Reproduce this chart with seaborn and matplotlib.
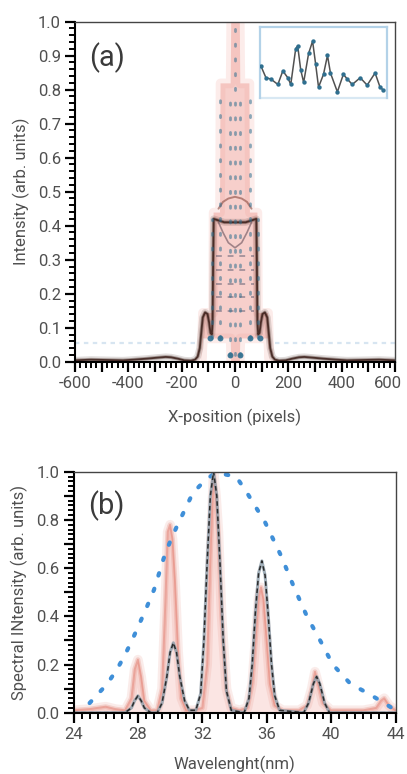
import numpy as np
import pandas as pd
import matplotlib
matplotlib.use("Agg")
import matplotlib.pyplot as plt
from matplotlib.ticker import MultipleLocator, FuncFormatter
from matplotlib.transforms import ScaledTranslation
import seaborn as sns

# ---------------- (a) spatial profile ----------------
# measured intensity envelope (pink band): upper and lower edges
a_env_x = [-128, -122, -84, -82, -58, -56, -18, -16, 16, 18, 52, 54, 82, 84, 122, 128]
a_env_hi = [0.0, 0.145, 0.145, 0.44, 0.44, 0.82, 0.82, 1.0, 1.0, 0.82, 0.82, 0.44, 0.44, 0.145, 0.145, 0.0]
a_env_lo = [0.0, 0.07, 0.07, 0.07, 0.07, 0.07, 0.07, 0.0, 0.0, 0.07, 0.07, 0.07, 0.07, 0.07, 0.07, 0.0]

# outline profile (dark line)
a_line_x = [-600, -540, -480, -420, -380, -330, -290, -260, -240, -215, -190, -165, -150, -140,
            -132, -126, -121, -112, -103, -97, -92, -87, -84, -82, -80, -60, -40, -20, 0,
            20, 40, 60, 80, 82, 84, 87, 92, 97, 103, 112, 121, 126, 132, 140, 150, 165,
            190, 215, 240, 260, 290, 330, 380, 420, 480, 540, 600]
a_line_y = [0.004, 0.006, 0.005, 0.004, 0.006, 0.009, 0.012, 0.014, 0.013, 0.009, 0.004, 0.003,
            0.006, 0.015, 0.04, 0.09, 0.13, 0.145, 0.14, 0.115, 0.085, 0.08, 0.12, 0.3, 0.42,
            0.415, 0.41, 0.41, 0.41, 0.41, 0.41, 0.415, 0.42, 0.3, 0.12, 0.08, 0.085, 0.115,
            0.14, 0.145, 0.13, 0.09, 0.04, 0.015, 0.006, 0.003, 0.004, 0.009, 0.013, 0.014,
            0.012, 0.009, 0.006, 0.004, 0.005, 0.006, 0.004]

# arcs across the central block
a_arc_x = [-62, -45, -25, 0, 25, 45, 62]
a_arc_top = [0.45, 0.47, 0.48, 0.485, 0.48, 0.47, 0.45]
a_arc_low = [0.41, 0.38, 0.35, 0.335, 0.35, 0.38, 0.41]

# fringe levels inside the central block
a_fringe_y = [0.31, 0.27, 0.23, 0.19, 0.15]

# simulated profile (dotted): columns of dots and base points
a_col_x = [-85, -55, -20, 0, 20, 55, 85]
a_col_lo = [0.07, 0.07, 0.02, 0.02, 0.02, 0.07, 0.07]
a_col_hi = [0.42, 0.80, 0.80, 1.00, 0.80, 0.80, 0.42]
a_base_x = [-94, -56, -19, 19, 56, 94]
a_base_y = [0.07, 0.07, 0.02, 0.02, 0.07, 0.07]
a_floor_y = 0.055

# inset trace
inset_y = [0.42, 0.25, 0.23, 0.15, 0.35, 0.25, 0.15, 0.68, 0.72, 0.37, 0.18, 0.61, 0.79,
           0.46, 0.11, 0.30, 0.58, 0.32, 0.04, 0.30, 0.23, 0.15, 0.25, 0.14, 0.32, 0.11, 0.07]
inset_x = [260, 265, 270, 277, 282, 287, 290, 295, 297, 300, 303, 308, 312, 315, 318, 323,
           327, 330, 337, 343, 347, 352, 360, 367, 375, 380, 383]

# ---------------- (b) spectrum ----------------
b_model_x = [24.0, 27.2, 27.6, 27.8, 28.0, 28.2, 28.4, 28.8, 29.2, 29.5, 29.8, 30.0, 30.2, 30.4,
             30.6, 30.9, 31.2, 31.6, 31.9, 32.1, 32.3, 32.5, 32.7, 32.9, 33.1, 33.3, 33.5,
             33.8, 34.6, 34.9, 35.1, 35.3, 35.5, 35.7, 35.9, 36.1, 36.3, 36.5, 36.8, 38.3,
             38.6, 38.9, 39.1, 39.3, 39.6, 39.9, 44.0]
b_model_y = [0.0, 0.0, 0.02, 0.05, 0.07, 0.05, 0.02, 0.0, 0.0, 0.04, 0.15, 0.25, 0.29, 0.25,
             0.15, 0.05, 0.01, 0.01, 0.08, 0.3, 0.62, 0.9, 1.0, 0.9, 0.62, 0.3, 0.09, 0.01,
             0.0, 0.06, 0.2, 0.42, 0.58, 0.63, 0.57, 0.4, 0.2, 0.07, 0.01, 0.0, 0.04, 0.12,
             0.15, 0.12, 0.04, 0.0, 0.0]

b_meas_x = [24.0, 25.0, 26.0, 26.6, 27.2, 27.6, 27.8, 28.0, 28.2, 28.4, 28.8, 29.2, 29.5, 29.7,
            29.85, 30.0, 30.15, 30.3, 30.5, 30.7, 31.0, 31.5, 32.0, 32.3, 32.5, 32.7, 32.85,
            33.0, 33.2, 33.5, 33.8, 34.3, 34.8, 35.1, 35.3, 35.5, 35.65, 35.8, 36.0, 36.2,
            36.5, 37.0, 38.0, 38.5, 38.8, 39.0, 39.2, 39.5, 40.0, 41.0, 42.0, 42.8, 43.1,
            43.3, 43.6, 44.0]
b_meas_y = [0.01, 0.015, 0.025, 0.015, 0.01, 0.06, 0.18, 0.22, 0.15, 0.05, 0.01, 0.01, 0.1,
            0.45, 0.75, 0.78, 0.72, 0.55, 0.25, 0.06, 0.01, 0.01, 0.02, 0.2, 0.65, 1.0, 0.9,
            0.75, 0.4, 0.1, 0.02, 0.01, 0.02, 0.12, 0.3, 0.48, 0.52, 0.47, 0.3, 0.12, 0.03,
            0.01, 0.01, 0.03, 0.1, 0.17, 0.12, 0.04, 0.01, 0.01, 0.01, 0.02, 0.05, 0.06,
            0.03, 0.01]

b_env_x = [25.0, 26.1, 26.7, 27.2, 27.7, 28.5, 29.0, 29.6, 30.0, 30.4, 30.9, 31.4, 32.1, 32.7,
           33.3, 34.1, 34.8, 35.9, 36.9, 37.7, 38.5, 39.4, 40.1, 41.2, 42.3, 43.3, 44.0]
b_env_y = [0.04, 0.12, 0.18, 0.24, 0.31, 0.43, 0.51, 0.64, 0.71, 0.77, 0.84, 0.91, 0.96, 0.99,
           0.99, 0.98, 0.91, 0.79, 0.65, 0.52, 0.40, 0.29, 0.20, 0.12, 0.08, 0.04, 0.01]

# ---------------- styling ----------------
sns.set_theme(style="ticks")
plt.rcParams["font.family"] = ["Roboto", "DejaVu Sans"]
TXT = "#505050"
PINK = "#f09a90"
RED = "#de6a5a"
DOT_A = "#2f6f8f"
DOT_B = "#3f8fd8"

fig = plt.figure(figsize=(4.07, 7.74), dpi=100)
ax_a = fig.add_axes([75 / 407, 1 - 361.7 / 774, 320 / 407, 340 / 774])
ax_b = fig.add_axes([73.5 / 407, 1 - 712.7 / 774, 322 / 407, 241 / 774])

# (a)
ax_a.fill_between(a_env_x, a_env_lo, a_env_hi, color=PINK, alpha=0.35, lw=0)
ax_a.fill_between(a_env_x, a_env_lo, a_env_hi, color=PINK, alpha=0.18, lw=7)
for w, al in [(5, 0.15), (2.6, 0.35), (1.3, 0.85)]:
    sns.lineplot(x=a_line_x, y=a_line_y, ax=ax_a, color="#3a1e18", lw=w, alpha=al,
                 estimator=None, sort=False)
sns.lineplot(x=a_arc_x, y=a_arc_top, ax=ax_a, color="#8a4a40", lw=1.4, alpha=0.6,
             estimator=None, sort=False)
sns.lineplot(x=a_arc_x, y=a_arc_low, ax=ax_a, color="#5a4450", lw=1.2, alpha=0.55,
             estimator=None, sort=False)
for yy in a_fringe_y:
    ax_a.hlines(yy, -72, 72, color="#4a4e66", lw=1.4, alpha=0.45, linestyles=(0, (3, 3)))
ax_a.vlines(a_col_x, a_col_lo, a_col_hi, color=DOT_A, lw=2.0, alpha=0.55,
            linestyles=(0, (0.8, 4.5)), capstyle="round")
ax_a.scatter(a_base_x, a_base_y, s=18, color=DOT_A, zorder=5, linewidths=0, alpha=0.9)
ax_a.hlines(a_floor_y, -600, -150, color="#9cc0dd", lw=1.6, alpha=0.4, linestyles=(0, (2, 2)))
ax_a.hlines(a_floor_y, 150, 600, color="#9cc0dd", lw=1.6, alpha=0.4, linestyles=(0, (2, 2)))

ax_a.set_xlim(-600, 600)
ax_a.set_ylim(0, 1.0)
ax_a.xaxis.set_major_locator(MultipleLocator(100))
ax_a.xaxis.set_minor_locator(MultipleLocator(20))
ax_a.xaxis.set_major_formatter(FuncFormatter(lambda v, p: f"{int(round(v))}" if round(v) % 200 == 0 else ""))
ax_a.yaxis.set_major_locator(MultipleLocator(0.1))
ax_a.yaxis.set_minor_locator(MultipleLocator(0.02))
ax_a.yaxis.set_major_formatter(FuncFormatter(lambda v, p: f"{v:.1f}"))
ax_a.set_xlabel("X-position (pixels)", color=TXT, fontsize=12, labelpad=13)
ax_a.set_ylabel("Intensity (arb. units)", color=TXT, fontsize=12, labelpad=6)
ax_a.text(0.045, 0.895, "(a)", transform=ax_a.transAxes, fontsize=21, color="#3a3a3a",
          va="center", ha="left")

# inset
ins = fig.add_axes([260 / 407, 1 - 98 / 774, 127 / 407, 71 / 774])
ins.set_facecolor("none")
sns.lineplot(x=inset_x, y=inset_y, ax=ins, color="#262626", lw=1.1, alpha=0.8,
             estimator=None, sort=False)
ins.scatter(inset_x, inset_y, s=10, color=DOT_A, zorder=5, linewidths=0)
ins.set_xlim(259, 387)
ins.set_ylim(-0.05, 1.0)
ins.set_xticks([])
ins.set_yticks([])
for s in ins.spines.values():
    s.set_color("#b3d2e8")
    s.set_linewidth(1.6)
ins.spines["bottom"].set_alpha(0.5)

# (b)
ax_b.fill_between(b_meas_x, 0, b_meas_y, color=PINK, alpha=0.25, lw=0)
for w, al in [(7, 0.12), (3.5, 0.22), (1.4, 0.4)]:
    sns.lineplot(x=b_meas_x, y=b_meas_y, ax=ax_b, color=RED, lw=w, alpha=al,
                 estimator=None, sort=False)
env_line = sns.lineplot(x=b_env_x, y=b_env_y, ax=ax_b, color=DOT_B, lw=3.0, estimator=None,
                        sort=False, linestyle=(0, (0.6, 3.3))).lines[-1]
env_line.set_dash_capstyle("round")
sns.lineplot(x=b_model_x, y=b_model_y, ax=ax_b, color="#8a9ba8", lw=2.2, alpha=0.8,
             estimator=None, sort=False)
sns.lineplot(x=b_model_x, y=b_model_y, ax=ax_b, color="#2b2b2b", lw=1.1,
             estimator=None, sort=False, linestyle=(0, (3, 2)))

ax_b.set_xlim(24, 44)
ax_b.set_ylim(0, 1.0)
ax_b.xaxis.set_major_locator(MultipleLocator(4))
ax_b.xaxis.set_minor_locator(MultipleLocator(0.5))
ax_b.yaxis.set_major_locator(MultipleLocator(0.1))
ax_b.yaxis.set_minor_locator(MultipleLocator(0.02))
ax_b.yaxis.set_major_formatter(FuncFormatter(lambda v, p: f"{v:.1f}" if round(v * 10) % 2 == 0 else ""))
ax_b.set_xlabel("Wavelenght(nm)", color=TXT, fontsize=12, labelpad=10)
ax_b.set_ylabel("Spectral INtensity (arb. units)", color=TXT, fontsize=12, labelpad=6)
ax_b.text(0.045, 0.86, "(b)", transform=ax_b.transAxes, fontsize=21, color="#3a3a3a",
          va="center", ha="left")

for ax in (ax_a, ax_b):
    ax.tick_params(which="major", direction="out", length=7, width=1.6, color="black",
                   labelcolor=TXT, labelsize=12, pad=3)
    ax.tick_params(which="minor", direction="out", length=4, width=1.4, color="black")
    ax.tick_params(top=False, right=False, which="both")
    for name in ("left", "bottom"):
        ax.spines[name].set_color("black")
        ax.spines[name].set_linewidth(1.5)
    for name in ("top", "right"):
        ax.spines[name].set_color("#444444")
        ax.spines[name].set_linewidth(1.0)
        ax.spines[name].set_visible(True)
    ax.set_facecolor("white")

# keep the rightmost x label inside the figure edge
fig.canvas.draw()
nudge = ScaledTranslation(-5 / 72, 0, fig.dpi_scale_trans)
for lab in ax_a.get_xticklabels():
    if lab.get_text() == "600":
        lab.set_transform(lab.get_transform() + nudge)

fig.savefig("out.png", dpi=100, facecolor="white")
